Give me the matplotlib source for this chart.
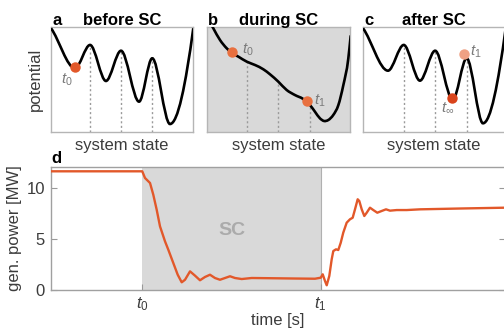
import numpy as np
import matplotlib
matplotlib.use('Agg')
import matplotlib.pyplot as plt
from matplotlib.path import Path
from matplotlib.patches import PathPatch

plt.rcParams['font.family'] = ['Liberation Sans', 'DejaVu Sans']
plt.rcParams['mathtext.fontset'] = 'custom'
plt.rcParams['mathtext.it'] = 'Liberation Sans:italic'
plt.rcParams['mathtext.rm'] = 'Liberation Sans'

# ---------------- data ----------------
# (a) landscape before SC : extrema of potential curve
state_a = [0.0, 1.69, 2.75, 3.87, 4.93, 6.20, 7.13, 8.38, 10.02]
pot_a = [9.88, 6.07, 8.29, 4.86, 7.74, 2.89, 7.02, 0.76, 9.88]
# (b) landscape during SC
state_b = [0.15, 0.44, 0.91, 1.38, 1.73, 2.20, 2.78, 3.36, 3.94, 4.41, 4.99, 5.57,
           6.15, 6.73, 7.20, 7.55, 7.90, 8.18, 8.48, 8.83, 9.18, 9.53, 9.88, 10.05]
pot_b = [10.6, 9.88, 8.76, 7.97, 7.55, 7.17, 6.70, 6.38, 5.97, 5.49, 4.79, 4.00,
         3.52, 3.14, 2.57, 1.93, 1.30, 1.05, 1.14, 1.62, 2.54, 4.44, 6.98, 9.20]
barrier_state_b = [2.78, 4.99, 7.20]
barrier_pot_b = [6.70, 4.79, 2.57]
# (c) landscape after SC
state_c = [0.0, 1.76, 2.87, 4.01, 5.08, 6.32, 7.30, 8.45, 10.05]
pot_c = [9.88, 5.84, 8.29, 4.89, 7.74, 3.05, 7.02, 0.83, 9.90]

# state markers
dot_a = (1.69, 6.15)
dot_b_t0 = (1.73, 7.60)
dot_b_t1 = (7.01, 2.95)
dot_c_tinf = (6.30, 3.25)
dot_c_t1 = (7.11, 7.40)

# (d) generated power
t0 = 20.1
t1 = 59.4
time_s = [0.0, 20.1, 20.70, 21.81, 22.53, 23.28, 24.01, 25.11, 25.84, 26.94, 27.91,
          28.79, 29.52, 30.62, 31.72, 32.82, 33.92, 35.02, 36.12, 37.22, 38.33,
          39.43, 40.53, 42.00, 44.21, 48.24, 53.74, 58.15, 59.41, 59.85, 60.35,
          60.73, 61.30, 61.83, 62.18, 62.78, 63.28, 63.81, 64.38, 65.13, 65.86,
          66.45, 66.96, 67.55, 67.91, 68.44, 69.01, 69.54, 70.26, 70.99, 71.87,
          72.84, 73.79, 74.67, 76.15, 78.35, 81.28, 90.09, 100.0]
power_mw = [11.58, 11.58, 10.93, 10.44, 9.30, 7.83, 6.21, 4.75, 3.93, 2.63, 1.49,
            0.75, 1.00, 1.82, 1.40, 0.95, 1.27, 1.49, 1.17, 1.00, 1.17,
            1.34, 1.17, 1.07, 1.17, 1.15, 1.12, 1.10, 1.20, 1.53, 0.88,
            0.46, 1.37, 3.00, 3.80, 3.97, 3.90, 4.60, 5.60, 6.57, 6.90,
            7.05, 7.87, 8.85, 8.68, 7.87, 7.22, 7.54, 8.03, 7.80, 7.54,
            7.71, 7.87, 7.74, 7.80, 7.80, 7.87, 7.95, 8.03]
y_ticks = [0, 5, 10]
x_tick_labels = [r'$t_{\mathit{0}}$', r'$t_{\mathit{1}}$']

# ---------------- helpers ----------------
def hermite_path(xs, ys, slopes):
    verts = [(xs[0], ys[0])]
    codes = [Path.MOVETO]
    for i in range(len(xs) - 1):
        dx = xs[i + 1] - xs[i]
        verts += [(xs[i] + dx / 3, ys[i] + slopes[i] * dx / 3),
                  (xs[i + 1] - dx / 3, ys[i + 1] - slopes[i + 1] * dx / 3),
                  (xs[i + 1], ys[i + 1])]
        codes += [Path.CURVE4] * 3
    return Path(verts, codes)

fig = plt.figure(figsize=(5.04, 3.30), dpi=100)
W, H = 504.0, 330.0

def px_axes(l, t, r, b):
    return fig.add_axes([l / W, 1 - b / H, (r - l) / W, (b - t) / H])

top_frame = '#b5b5b5'
lab_col = '#3c3c3c'
grey_txt = '#7a7a7a'
orange = '#e2582a'

def setup_top(ax, letter, title, face='white'):
    ax.set_xlim(0, 10)
    ax.set_ylim(0, 10)
    ax.set_facecolor(face)
    ax.set_xticks([])
    ax.set_yticks([])
    for s in ax.spines.values():
        s.set_color(top_frame)
        s.set_linewidth(1.0)
    ax.set_xlabel('system state', fontsize=12, color=lab_col)
    ax.xaxis.set_label_coords(0.5, -0.055)
    ax.xaxis.label.set_va('top')
    ax.text(0.01, 1.02, letter, transform=ax.transAxes, fontsize=12,
            fontweight='bold', ha='left', va='baseline')
    ax.text(0.5, 1.02, title, transform=ax.transAxes, fontsize=12,
            fontweight='bold', ha='center', va='baseline')

dot_style = dict(ls='none', marker='o', ms=7.5, mec='none', zorder=5)
dash_style = dict(colors='#9a9a9a', linestyles=(0, (1.5, 1.8)), linewidth=1.0, zorder=1)

# ---- panel a ----
axa = px_axes(51, 27, 193, 132)
setup_top(axa, 'a', 'before SC')
slopes_a = [-1.8] + [0] * 7 + [10]
axa.add_patch(PathPatch(hermite_path(state_a, pot_a, slopes_a), fc='none', ec='black', lw=1.9, zorder=3))
axa.vlines([state_a[i] for i in (2, 4, 6)], 0, [pot_a[i] for i in (2, 4, 6)], **dash_style)
axa.plot(*dot_a, color=orange, **dot_style)
axa.text(1.13, 4.95, r'$t_{\mathit{0}}$', fontsize=11, color=grey_txt, ha='center', va='center')
axa.set_ylabel('potential', fontsize=12, color=lab_col)
axa.yaxis.set_label_coords(-0.056, 0.5)

# ---- panel b ----
axb = px_axes(207, 27, 350, 132)
setup_top(axb, 'b', 'during SC', face='#d9d9d9')
slopes_b = np.gradient(np.array(pot_b), np.array(state_b))
pb = PathPatch(hermite_path(state_b, pot_b, slopes_b), fc='none', ec='black', lw=1.9, zorder=3)
axb.add_patch(pb)
pb.set_clip_path(axb.patch)
axb.vlines(barrier_state_b, 0, barrier_pot_b, **dash_style)
axb.plot(*dot_b_t0, color='#e8703f', **dot_style)
axb.plot(*dot_b_t1, color='#e8703f', **dot_style)
axb.text(2.43, 7.85, r'$t_{\mathit{0}}$', fontsize=11, color=grey_txt, ha='left', va='center')
axb.text(7.45, 3.0, r'$t_{\mathit{1}}$', fontsize=11, color=grey_txt, ha='left', va='center')

# ---- panel c ----
axc = px_axes(363, 27, 505, 132)
setup_top(axc, 'c', 'after SC')
slopes_c = [-1.8] + [0] * 7 + [10]
axc.add_patch(PathPatch(hermite_path(state_c, pot_c, slopes_c), fc='none', ec='black', lw=1.9, zorder=3))
axc.vlines([state_c[i] for i in (2, 4, 6)], 0, [pot_c[i] for i in (2, 4, 6)], **dash_style)
axc.plot(*dot_c_t1, color='#efa184', **dot_style)
axc.plot(*dot_c_tinf, color='#d9441c', **dot_style)
axc.text(7.5, 7.65, r'$t_{\mathit{1}}$', fontsize=11, color=grey_txt, ha='left', va='center')
axc.text(5.95, 2.3, r'$t_{\infty}$', fontsize=11, color=grey_txt, ha='center', va='center')

# ---- panel d ----
axd = px_axes(51, 167, 505, 290)
axd.set_xlim(0, 100)
axd.set_ylim(0, 12)
axd.axvspan(t0, t1, color='#d9d9d9', lw=0, zorder=0)
axd.axvline(t1, color='#b0b0b0', lw=0.8, zorder=1)
axd.plot(time_s, power_mw, color=orange, lw=1.7, zorder=3)
axd.text((t0 + t1) / 2, 5.8, 'SC', fontsize=14, fontweight='bold', color='#ababab',
         ha='center', va='center')
axd.set_yticks(y_ticks)
axd.set_xticks([t0, t1])
axd.set_xticklabels(x_tick_labels)
axd.tick_params(axis='both', direction='in', length=4, width=0.8, colors='#999999',
                labelcolor=lab_col, labelsize=12)
axd.tick_params(axis='y', right=True, pad=4.5)
axd.tick_params(axis='x', pad=4)
for s in axd.spines.values():
    s.set_color('#a0a0a0')
    s.set_linewidth(1.0)
axd.set_ylabel('gen. power [MW]', fontsize=12, color=lab_col)
axd.yaxis.set_label_coords(-0.064, 0.5)
axd.set_xlabel('time [s]', fontsize=12, color=lab_col)
axd.xaxis.set_label_coords(0.5, -0.187)
axd.xaxis.label.set_va('top')
axd.text(0.0, 1.033, 'd', transform=axd.transAxes, fontsize=12, fontweight='bold',
         ha='left', va='baseline')

fig.savefig('out.png', dpi=100)
